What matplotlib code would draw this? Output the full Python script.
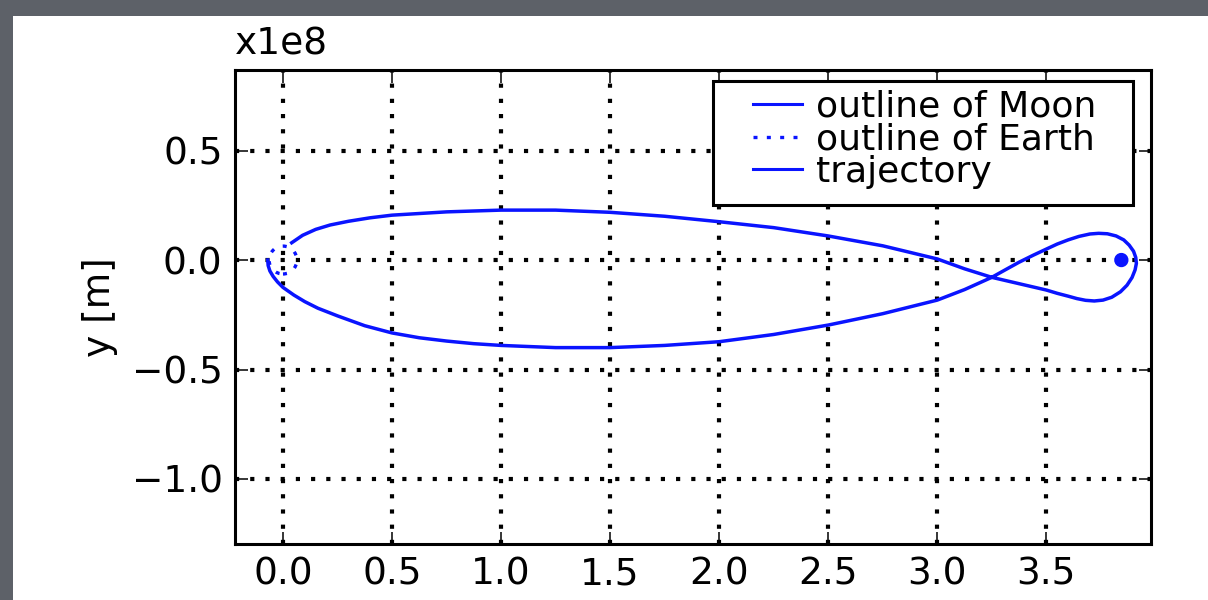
import matplotlib
matplotlib.use("Agg")

import matplotlib.pyplot as plt
from matplotlib.patches import Circle, Rectangle
from matplotlib.lines import Line2D
from matplotlib.ticker import FuncFormatter

SCALE = 1e8

# trajectory, in units of 1e8 m
traj_x = [-0.07, -0.068, -0.06, -0.045, -0.025, 0.0, 0.05, 0.1, 0.16, 0.25,
          0.375, 0.5, 0.625, 0.75, 0.875, 1.0, 1.25, 1.5, 1.75, 2.0,
          2.25, 2.5, 2.75, 3.0, 3.125, 3.25, 3.315, 3.375, 3.44, 3.5,
          3.55, 3.6, 3.65, 3.70, 3.74, 3.78, 3.82, 3.855, 3.88, 3.90,
          3.91, 3.913, 3.907, 3.893, 3.87, 3.84, 3.80, 3.76, 3.72, 3.68,
          3.64, 3.6, 3.55, 3.5, 3.375, 3.25, 3.125, 3.0, 2.75, 2.5,
          2.25, 2.0, 1.75, 1.5, 1.25, 1.0, 0.75, 0.5, 0.4, 0.3,
          0.216, 0.15, 0.09, 0.04]
traj_y = [0.0, -0.025, -0.05, -0.075, -0.1, -0.125, -0.16, -0.19, -0.22, -0.255,
          -0.3, -0.333, -0.355, -0.37, -0.382, -0.39, -0.40, -0.40, -0.39, -0.373,
          -0.34, -0.297, -0.245, -0.183, -0.135, -0.079, -0.043, -0.01, 0.022, 0.05,
          0.073, 0.092, 0.108, 0.119, 0.122, 0.12, 0.11, 0.092, 0.068, 0.04,
          0.012, -0.015, -0.045, -0.08, -0.115, -0.145, -0.17, -0.183, -0.187, -0.184,
          -0.176, -0.165, -0.152, -0.137, -0.108, -0.079, -0.04, 0.005, 0.065, 0.11,
          0.148, 0.175, 0.20, 0.218, 0.228, 0.228, 0.22, 0.205, 0.193, 0.177,
          0.16, 0.14, 0.113, 0.079]

earth_center = (0.0, 0.0)
earth_radius = 6.371e6
moon_center = (3.844e8, 0.0)
moon_radius = 1.737e6

xticks = [0.0, 0.5, 1.0, 1.5, 2.0, 2.5, 3.0, 3.5]
yticks = [-1.0, -0.5, 0.0, 0.5]

plt.rcParams["font.family"] = "DejaVu Sans"

fig = plt.figure(figsize=(12.08, 6.0), dpi=100, facecolor="#5d6168")
# white slide area
fig.patches.append(Rectangle((13 / 1208, 0), 1 - 13 / 1208, 1 - 16 / 600,
                             transform=fig.transFigure, facecolor="white",
                             edgecolor="none", zorder=-10))

ax = fig.add_axes([235 / 1208, 1 - 544 / 600, 916 / 1208, 474 / 600])
ax.set_facecolor("white")

blue = "#0a14ff"
dots = (0, (1.2, 2.8))

ax.add_patch(Circle(moon_center, moon_radius, fill=False, ec=blue, lw=4.8, zorder=3))
ax.add_patch(Circle(earth_center, earth_radius, fill=False, ec=blue, lw=2.4,
                    ls=dots, zorder=3))
ax.plot([v * SCALE for v in traj_x], [v * SCALE for v in traj_y],
        color=blue, lw=2.5, zorder=3, solid_joinstyle="round")

ax.set_xlim(-0.22 * SCALE, 3.98 * SCALE)
ax.set_ylim(-1.297 * SCALE, 0.868 * SCALE)
ax.set_xticks([v * SCALE for v in xticks])
ax.set_yticks([v * SCALE for v in yticks])

fmt = FuncFormatter(lambda v, p: f"{v / SCALE:.1f}".replace("-", "\u2212"))
ax.xaxis.set_major_formatter(fmt)
ax.yaxis.set_major_formatter(fmt)

ax.tick_params(direction="in", length=9, width=1.1, top=True, right=True,
               labelsize=27, pad=9, colors="black")
for s in ax.spines.values():
    s.set_linewidth(2.2)

ax.grid(True, color="black", lw=3.0, linestyle=(0, (1, 2.65)))

ax.set_ylabel("y [m]", fontsize=27)
ax.yaxis.set_label_coords(-0.128, 0.5)

ax.text(0.0, 1.015, "x1e8", transform=ax.transAxes, fontsize=27,
        ha="left", va="bottom")

# legend frame
ax.add_patch(Rectangle((0.5218, 0.7152), 0.4585, 0.2616, transform=ax.transAxes,
                       facecolor="white", edgecolor="black", lw=2.2, zorder=4))
handles = [
    Line2D([], [], color=blue, lw=2.2),
    Line2D([], [], color=blue, lw=2.4, ls=dots),
    Line2D([], [], color=blue, lw=2.2),
]
labels = ["outline of Moon", "outline of Earth", "trajectory"]
leg = ax.legend(handles, labels, loc="upper left", bbox_to_anchor=(0.5655, 0.958),
                borderaxespad=0, borderpad=0, frameon=False, fontsize=26,
                handlelength=1.35, handletextpad=0.4, labelspacing=-0.04)
leg.set_zorder(5)

plt.savefig("out.png", dpi=100, facecolor=fig.get_facecolor())
plt.close()
